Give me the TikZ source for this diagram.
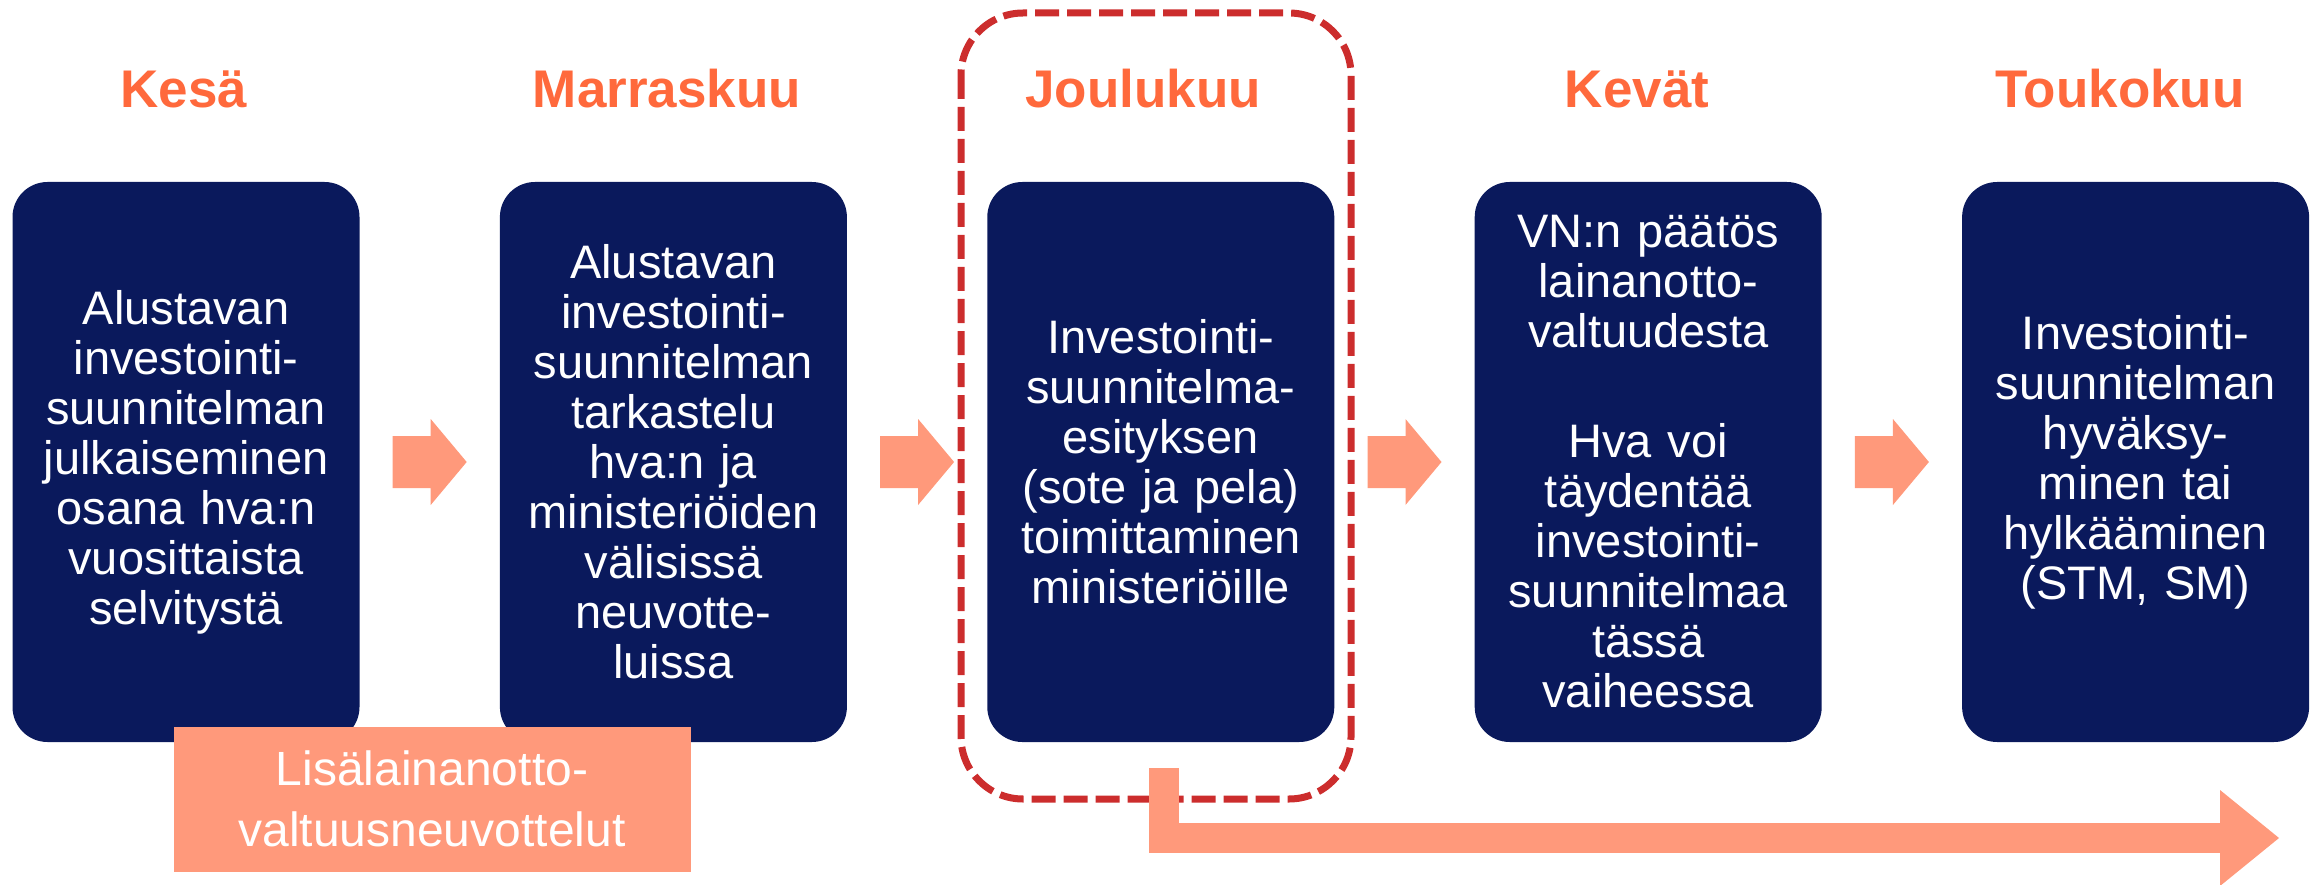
\documentclass[tikz,border=0pt]{standalone}
\usepackage{fontspec}
\setmainfont{Liberation Sans}
\usetikzlibrary{positioning,calc,arrows.meta}

\definecolor{boxnavy}{RGB}{10,25,92}
\definecolor{stepsalmon}{RGB}{255,153,123}
\definecolor{monthorange}{RGB}{255,105,60}
\definecolor{framered}{RGB}{204,45,45}

\begin{document}
\begin{tikzpicture} [x=1pt, y=-1pt, node distance=140pt,
	phase/.style={rectangle, rounded corners=35pt, fill=boxnavy, text=white, minimum width=347pt, minimum height=560pt, text width=340pt, align=center, inner sep=0pt, font=\fontsize{47}{50}\selectfont},
	month/.style={text=monthorange, anchor=base, inner sep=0pt, font=\bfseries\fontsize{53}{60}\selectfont},
	talks/.style={rectangle, fill=stepsalmon, text=white, minimum width=517pt, minimum height=145pt, align=center, inner sep=0pt, font=\fontsize{48}{61}\selectfont},
	focus/.style={draw=framered, line width=7pt, dash pattern=on 24pt off 8pt, rounded corners=62pt},
	bigarrow/.style={draw=stepsalmon, line width=30pt, shorten <=26pt, -{Triangle[width=96pt,length=59pt,line width=0pt]}}]

\useasboundingbox (0,0) rectangle (2318,885);

\node [phase]	(box1) at (186,462)	{Alustavan\\investointi-\\suunnitelman\\julkaiseminen\\osana hva:n\\vuosittaista\\selvitystä};
\node [phase]	(box2) [right=of box1]	{Alustavan\\investointi-\\suunnitelman\\tarkastelu\\hva:n ja\\ministeriöiden\\välisissä\\neuvotte-\\luissa};
\node [phase]	(box3) [right=of box2]	{Investointi-\\suunnitelma-\\esityksen\\(sote ja pela)\\toimittaminen\\ministeriöille};
\node [phase]	(box4) [right=of box3]	{VN:n päätös\\lainanotto-\\valtuudesta\\[60pt]Hva voi\\täydentää\\investointi-\\suunnitelmaa\\tässä\\vaiheessa};
\node [phase]	(box5) [right=of box4]	{Investointi-\\suunnitelman\\hyväksy-\\minen tai\\hylkääminen\\(STM, SM)};

\node [month]	(m1) at (184,108)	{Kesä};
\node [month]	(m2) at (667,108)	{Marraskuu};
\node [month]	(m3) at (1143,108)	{Joulukuu};
\node [month]	(m4) at (1637,108)	{Kevät};
\node [month]	(m5) at (2120,108)	{Toukokuu};

\node [talks]	(talk) at (432,799)	{Lisälainanotto-\\valtuusneuvottelut};

\foreach \a/\b in {box1/box2,box2/box3,box3/box4,box4/box5}
	\fill[stepsalmon] ($(\a.east)!0.5!(\b.west)+(-37,-26)$) -- ++(38,0) -- ++(0,-17) -- ++(36,43) -- ++(-36,43) -- ++(0,-17) -- ++(-38,0) -- cycle;

% December highlight
\draw [focus] (961,13) rectangle (1351,799);

\coordinate (ctip) at (2279,838);
\draw [bigarrow] ($(box3.south)+(3,0)$) |- (ctip);

\end{tikzpicture}
\end{document}
